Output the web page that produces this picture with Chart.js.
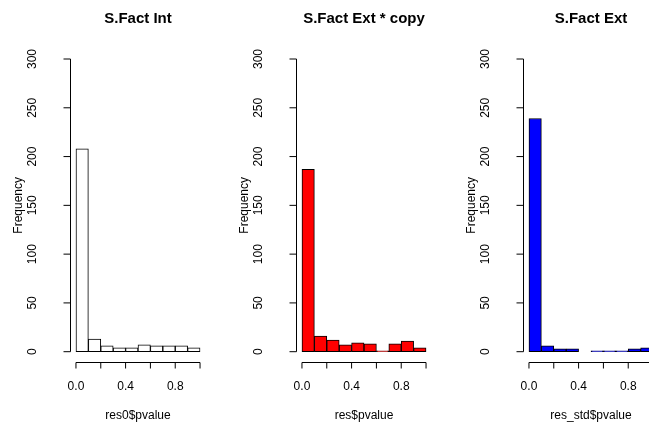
<!DOCTYPE html>
<html>
<head>
<meta charset="UTF-8">
<title>p-value histograms</title>
<script src="https://cdn.jsdelivr.net/npm/chart.js"></script>
<style>
  body { margin: 0; background: #fff; width: 649px; height: 430px; overflow: hidden; position: relative; }
  canvas { position: absolute; top: 0; }
</style>
</head>
<body>
<canvas id="histInt" width="227" height="430" style="left:0px"></canvas>
<canvas id="histCopy" width="227" height="430" style="left:226px"></canvas>
<canvas id="histExt" width="227" height="430" style="left:453px"></canvas>
<script>
// histogram bins (break points) and counts per bin
const breaks = [0, 0.1, 0.2, 0.3, 0.4, 0.5, 0.6, 0.7, 0.8, 0.9, 1.0];
const countsInt = [208, 13, 6, 4, 4, 7, 6, 6, 6, 4];
const countsExtCopy = [187, 16, 12, 7, 9, 8, 1, 8, 11, 4];
const countsExt = [239, 6, 3, 3, 0, 1, 1, 1, 3, 4];

const xTicks = [0, 0.2, 0.4, 0.6, 0.8, 1.0];
const xTickLabels = ['0.0', '', '0.4', '', '0.8', ''];
const yTicks = [0, 50, 100, 150, 200, 250, 300];
const yTickLabels = ['0', '50', '100', '150', '200', '250', '300'];

const FONT = "'Liberation Sans', Arial, Helvetica, sans-serif";

// R-style axes: lines only span the tick range, labels drawn like base graphics
function rAxes(title, xLabel) {
  return {
    id: 'rAxes',
    afterDraw(chart) {
      const { ctx, chartArea: area, scales: { x, y } } = chart;
      ctx.save();
      ctx.strokeStyle = '#000';
      ctx.fillStyle = '#000';
      ctx.lineWidth = 1;

      const ax = Math.round(area.bottom) - 0.5;
      const ay = Math.round(area.left) - 0.5;
      ctx.beginPath();
      ctx.moveTo(x.getPixelForValue(xTicks[0]), ax);
      ctx.lineTo(x.getPixelForValue(xTicks[xTicks.length - 1]), ax);
      xTicks.forEach(v => {
        const px = x.getPixelForValue(v);
        ctx.moveTo(px, ax);
        ctx.lineTo(px, ax + 6);
      });
      ctx.moveTo(ay, y.getPixelForValue(yTicks[0]));
      ctx.lineTo(ay, y.getPixelForValue(yTicks[yTicks.length - 1]));
      yTicks.forEach(v => {
        const py = y.getPixelForValue(v);
        ctx.moveTo(ay, py);
        ctx.lineTo(ay - 7, py);
      });
      ctx.stroke();

      ctx.font = '12px ' + FONT;
      ctx.textAlign = 'center';
      ctx.textBaseline = 'alphabetic';
      xTicks.forEach((v, i) => ctx.fillText(xTickLabels[i], x.getPixelForValue(v), area.bottom + 26.6));
      ctx.fillText(xLabel, (area.left + area.right) / 2, area.bottom + 56);

      yTicks.forEach((v, i) => {
        ctx.save();
        ctx.translate(area.left - 35, y.getPixelForValue(v));
        ctx.rotate(-Math.PI / 2);
        ctx.fillText(yTickLabels[i], 0, 0);
        ctx.restore();
      });
      ctx.save();
      ctx.translate(area.left - 49, (area.top + area.bottom) / 2);
      ctx.rotate(-Math.PI / 2);
      ctx.fillText('Frequency', 0, 0);
      ctx.restore();

      ctx.font = 'bold 15px ' + FONT;
      ctx.fillText(title, (area.left + area.right) / 2, area.top - 24.3);
      ctx.restore();
    }
  };
}

function drawHist(id, counts, fill, title, xLabel) {
  const points = counts.map((c, i) => ({ x: (breaks[i] + breaks[i + 1]) / 2, y: c }));
  new Chart(document.getElementById(id), {
    type: 'bar',
    data: {
      datasets: [{
        data: points,
        backgroundColor: fill,
        borderColor: '#000',
        borderWidth: 1,
        borderSkipped: false,
        barPercentage: 1,
        categoryPercentage: 1
      }]
    },
    options: {
      responsive: false,
      animation: false,
      events: [],
      layout: { padding: { left: 71, right: 22, top: 47.3, bottom: 66.6 } },
      plugins: { legend: { display: false }, tooltip: { enabled: false } },
      scales: {
        x: {
          type: 'linear', min: -0.04, max: 1.04, offset: false, display: false,
          afterBuildTicks: s => { s.ticks = xTicks.map(v => ({ value: v })); }
        },
        y: {
          type: 'linear', min: -12, max: 312, display: false,
          afterBuildTicks: s => { s.ticks = yTicks.map(v => ({ value: v })); }
        }
      }
    },
    plugins: [rAxes(title, xLabel)]
  });
}

drawHist('histInt', countsInt, '#ffffff', 'S.Fact Int', 'res0$pvalue');
drawHist('histCopy', countsExtCopy, '#ff0000', 'S.Fact Ext * copy', 'res$pvalue');
drawHist('histExt', countsExt, '#0000ff', 'S.Fact Ext', 'res_std$pvalue');
</script>
</body>
</html>
